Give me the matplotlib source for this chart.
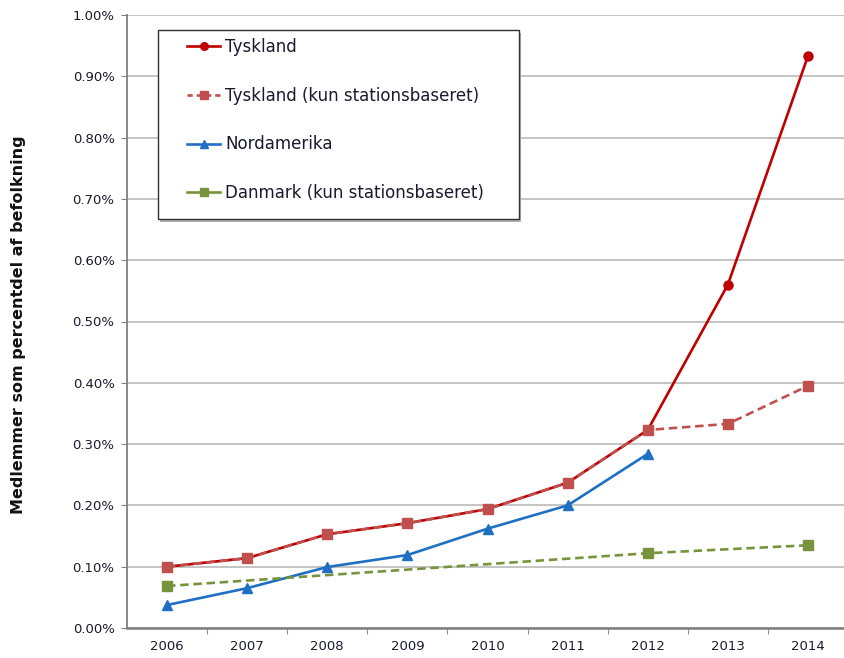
import numpy as np
import matplotlib
matplotlib.use("Agg")
import matplotlib.pyplot as plt
from matplotlib.patches import Rectangle
from matplotlib.lines import Line2D
from matplotlib.ticker import FixedLocator, FuncFormatter

years = [2006, 2007, 2008, 2009, 2010, 2011, 2012, 2013, 2014]
tyskland = [0.100, 0.114, 0.153, 0.171, 0.194, 0.237, 0.323, 0.560, 0.933]
tyskland_station = [0.100, 0.114, 0.153, 0.171, 0.194, 0.237, 0.323, 0.333, 0.395]
nord_years = [2006, 2007, 2008, 2009, 2010, 2011, 2012]
nordamerika = [0.0375, 0.065, 0.0995, 0.119, 0.162, 0.200, 0.284]
dk_years = [2006, 2012, 2014]
danmark = [0.0685, 0.122, 0.135]

labels = ["Tyskland", "Tyskland (kun stationsbaseret)", "Nordamerika",
          "Danmark (kun stationsbaseret)"]
colors = ["#c00000", "#c0504d", "#1f6fc5", "#77933c"]
ylabel = "Medlemmer som percentdel af befolkning"

plt.rcParams['font.family'] = ['DejaVu Sans']

fig = plt.figure(figsize=(8.44, 6.58), dpi=100)
ax = fig.add_axes([127/844, 30/658, 717/844, 613/658])
ax.set_xlim(2005.5, 2014.45)
ax.set_ylim(0, 1.0)

dash = (0, (3.2, 1.8))
ax.plot(years, tyskland, color=colors[0], lw=1.9, marker='o', ms=6.5, zorder=3,
        clip_on=False)
ax.plot(years, tyskland_station, color=colors[1], lw=1.9, ls=dash, marker='s',
        ms=7, zorder=4, clip_on=False)
ax.plot(nord_years, nordamerika, color=colors[2], lw=1.9, marker='^', ms=6.5,
        zorder=3, clip_on=False)
ax.plot(dk_years, danmark, color=colors[3], lw=1.9, ls=dash, marker='s', ms=7,
        zorder=3, clip_on=False)

# grid and axes styling
ax.yaxis.set_major_locator(FixedLocator(np.arange(0, 1.0001, 0.1)))
ax.yaxis.set_major_formatter(FuncFormatter(lambda v, p: f"{v:.2f}%"))
ax.grid(axis='y', color='#c4c4c4', lw=1.4, zorder=0)
ax.set_axisbelow(True)
ax.xaxis.set_major_locator(FixedLocator([y + 0.5 for y in years[:-1]]))
ax.xaxis.set_major_formatter(FuncFormatter(lambda v, p: ""))
ax.xaxis.set_minor_locator(FixedLocator(years))
ax.xaxis.set_minor_formatter(FuncFormatter(lambda v, p: f"{int(round(v))}"))
ax.tick_params(axis='x', which='major', length=4, color='#909090', direction='out')
ax.tick_params(axis='x', which='minor', length=0, pad=9, labelsize=9.5,
               labelcolor='#1a1a2e')
ax.tick_params(axis='y', length=4, color='#808080', pad=5, labelsize=9.5,
               labelcolor='#1a1a2e')
for s in ['top', 'right']:
    ax.spines[s].set_visible(False)
ax.spines['left'].set_color('#808080')
ax.spines['left'].set_linewidth(1.3)
ax.spines['bottom'].set_color('#808080')
ax.spines['bottom'].set_linewidth(1.8)

fig.text(19/844, (658-325)/658, ylabel, rotation=90, ha='center', va='center',
         fontsize=11.5, fontweight='bold', color='#111111')

# legend box
shadow = Rectangle((0.0432 + 0.003, 0.667 - 0.004), 0.5035, 0.3083,
                   transform=ax.transAxes, facecolor='#b0b0b0', edgecolor='none',
                   zorder=5)
box = Rectangle((0.0432, 0.667), 0.5035, 0.3083, transform=ax.transAxes,
                facecolor='white', edgecolor='#303030', lw=1.0, zorder=6)
ax.add_patch(shadow)
ax.add_patch(box)

handles = [
    Line2D([], [], color=colors[0], lw=1.9, marker='o', ms=5.5),
    Line2D([], [], color=colors[1], lw=1.9, ls=(0, (2, 1.5)), marker='s', ms=6),
    Line2D([], [], color=colors[2], lw=1.9, marker='^', ms=5.5),
    Line2D([], [], color=colors[3], lw=1.9, marker='s', ms=6),
]
leg = ax.legend(handles, labels, loc='upper left',
                bbox_to_anchor=(0.0837, 0.963), borderpad=0, borderaxespad=0,
                frameon=False, fontsize=12, handlelength=2.0,
                handletextpad=0.3, labelspacing=1.85, labelcolor='#1a1a2e')
leg.set_zorder(7)

fig.savefig("out.png", dpi=100)
